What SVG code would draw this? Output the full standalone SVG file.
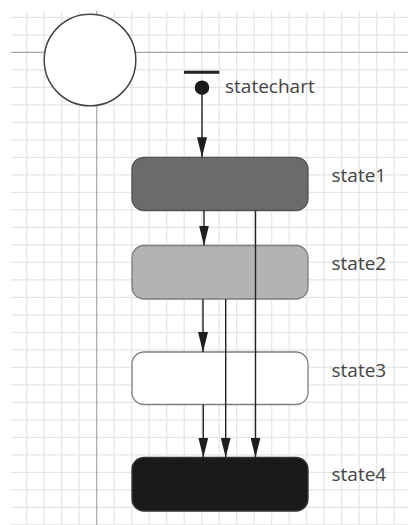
<svg xmlns="http://www.w3.org/2000/svg" width="408" height="525" viewBox="0 0 408 525">
<style>
.grid line{stroke:#e5e5e5;stroke-width:1.2}
.axis{stroke:#a8a8a8;stroke-width:1.2}
.lbl{font-family:"Open Sans","Noto Sans","Liberation Sans",sans-serif;font-size:19px;fill:#444}
.box{stroke-width:1.3}
.conn line{stroke:#222;stroke-width:1.4}
</style>
<defs>
<marker id="arr" markerUnits="userSpaceOnUse" markerWidth="20" markerHeight="10" refX="20" refY="5" orient="auto" viewBox="0 0 20 10">
<path d="M0,0 L20,5 L0,10 z" fill="#1e1e1e"/>
</marker>
</defs>
<rect width="408" height="525" fill="#fff"/>
<g class="grid">
<line x1="11" y1="17.3" x2="408" y2="17.3"/>
<line x1="11" y1="34.8" x2="408" y2="34.8"/>
<line x1="11" y1="69.8" x2="408" y2="69.8"/>
<line x1="11" y1="87.3" x2="408" y2="87.3"/>
<line x1="11" y1="104.8" x2="408" y2="104.8"/>
<line x1="11" y1="122.3" x2="408" y2="122.3"/>
<line x1="11" y1="139.8" x2="408" y2="139.8"/>
<line x1="11" y1="157.3" x2="408" y2="157.3"/>
<line x1="11" y1="174.8" x2="408" y2="174.8"/>
<line x1="11" y1="192.3" x2="408" y2="192.3"/>
<line x1="11" y1="209.8" x2="408" y2="209.8"/>
<line x1="11" y1="227.3" x2="408" y2="227.3"/>
<line x1="11" y1="244.8" x2="408" y2="244.8"/>
<line x1="11" y1="262.3" x2="408" y2="262.3"/>
<line x1="11" y1="279.8" x2="408" y2="279.8"/>
<line x1="11" y1="297.3" x2="408" y2="297.3"/>
<line x1="11" y1="314.8" x2="408" y2="314.8"/>
<line x1="11" y1="332.3" x2="408" y2="332.3"/>
<line x1="11" y1="349.8" x2="408" y2="349.8"/>
<line x1="11" y1="367.3" x2="408" y2="367.3"/>
<line x1="11" y1="384.8" x2="408" y2="384.8"/>
<line x1="11" y1="402.3" x2="408" y2="402.3"/>
<line x1="11" y1="419.8" x2="408" y2="419.8"/>
<line x1="11" y1="437.3" x2="408" y2="437.3"/>
<line x1="11" y1="454.8" x2="408" y2="454.8"/>
<line x1="11" y1="472.3" x2="408" y2="472.3"/>
<line x1="11" y1="489.8" x2="408" y2="489.8"/>
<line x1="11" y1="507.3" x2="408" y2="507.3"/>
<line x1="11" y1="524.8" x2="408" y2="524.8"/>
<line x1="26.7" y1="11" x2="26.7" y2="525"/>
<line x1="44.2" y1="11" x2="44.2" y2="525"/>
<line x1="61.7" y1="11" x2="61.7" y2="525"/>
<line x1="79.2" y1="11" x2="79.2" y2="525"/>
<line x1="114.2" y1="11" x2="114.2" y2="525"/>
<line x1="131.7" y1="11" x2="131.7" y2="525"/>
<line x1="149.2" y1="11" x2="149.2" y2="525"/>
<line x1="166.7" y1="11" x2="166.7" y2="525"/>
<line x1="184.2" y1="11" x2="184.2" y2="525"/>
<line x1="201.7" y1="11" x2="201.7" y2="525"/>
<line x1="219.2" y1="11" x2="219.2" y2="525"/>
<line x1="236.7" y1="11" x2="236.7" y2="525"/>
<line x1="254.2" y1="11" x2="254.2" y2="525"/>
<line x1="271.7" y1="11" x2="271.7" y2="525"/>
<line x1="289.2" y1="11" x2="289.2" y2="525"/>
<line x1="306.7" y1="11" x2="306.7" y2="525"/>
<line x1="324.2" y1="11" x2="324.2" y2="525"/>
<line x1="341.7" y1="11" x2="341.7" y2="525"/>
<line x1="359.2" y1="11" x2="359.2" y2="525"/>
<line x1="376.7" y1="11" x2="376.7" y2="525"/>
<line x1="394.2" y1="11" x2="394.2" y2="525"/>
</g>
<line class="axis" x1="11" y1="52.3" x2="408" y2="52.3"/>
<line class="axis" x1="96.7" y1="11" x2="96.7" y2="525"/>
<g id="root-circle">
<circle cx="90" cy="60" r="45.8" fill="#fff" stroke="#444" stroke-width="1.5"/>
</g>
<g id="initial">
<line x1="184" y1="72.3" x2="219.3" y2="72.3" stroke="#222" stroke-width="3"/>
<circle cx="202" cy="87.7" r="7.2" fill="#1a1a1a"/>
<text class="lbl" x="225" y="93">statechart</text>
</g>
<g id="state1">
<rect class="box" x="132" y="157.3" width="176" height="53.2" rx="12" fill="#6b6b6b" stroke="#505050"/>
<text class="lbl" x="331.5" y="181.7">state1</text>
</g>
<g id="state2">
<rect class="box" x="132" y="245.5" width="176" height="53.5" rx="12" fill="#b3b3b3" stroke="#7e7e7e"/>
<text class="lbl" x="331.5" y="270">state2</text>
</g>
<g id="state3">
<rect class="box" x="132" y="352" width="176" height="52.5" rx="12" fill="#fff" stroke="#7e7e7e"/>
<text class="lbl" x="331.5" y="376.7">state3</text>
</g>
<g id="state4">
<rect class="box" x="132" y="457.5" width="176" height="53.5" rx="12" fill="#1a1a1a" stroke="#333"/>
<text class="lbl" x="331.5" y="480.7">state4</text>
</g>
<g class="conn">
<line x1="202" y1="88" x2="202" y2="157.3" marker-end="url(#arr)"/>
<line x1="204" y1="210.5" x2="204" y2="245.5" marker-end="url(#arr)"/>
<line x1="255.5" y1="210.5" x2="255.5" y2="457.5" marker-end="url(#arr)"/>
<line x1="203" y1="299" x2="203" y2="352" marker-end="url(#arr)"/>
<line x1="225.7" y1="299" x2="225.7" y2="457.5" marker-end="url(#arr)"/>
<line x1="203.3" y1="404.5" x2="203.3" y2="457.5" marker-end="url(#arr)"/>
</g>
</svg>
